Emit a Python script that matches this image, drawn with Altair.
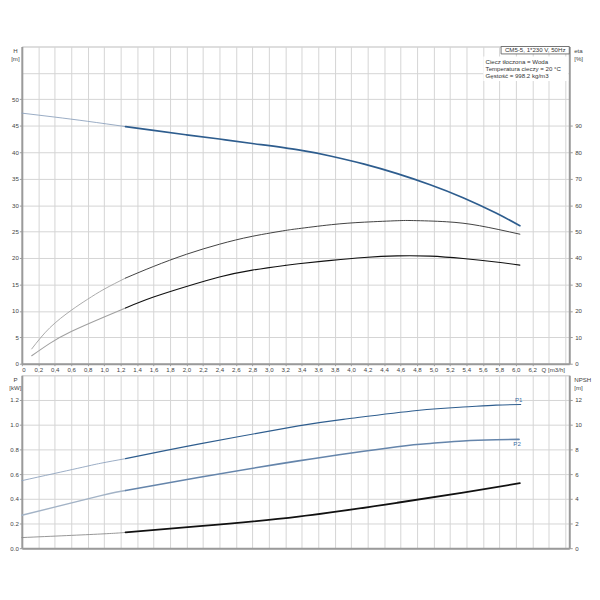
import altair as alt
import pandas as pd

# ---------------- data ----------------
# Head curve H [m] vs flow Q [m3/h]
Q_H = [0.0, 0.4, 0.8, 1.26, 1.6, 2.0, 2.4, 2.8, 3.36, 3.76, 4.16, 4.56, 4.96, 5.36, 5.76, 6.05]
H = [47.4, 46.65, 45.85, 44.85, 44.15, 43.3, 42.5, 41.65, 40.45, 39.25, 37.75, 35.95, 33.85, 31.4, 28.5, 26.1]

# Efficiency curves eta [%]
Q_ETA_A = [0.12, 0.34, 0.6, 0.8, 1.0, 1.26, 1.6, 2.0, 2.4, 2.8, 3.2, 3.36, 3.76, 4.16, 4.56, 4.76, 5.16, 5.56, 6.05]
ETA_A = [5.6, 13.6, 20.2, 24.4, 28.2, 32.4, 36.8, 41.4, 45.2, 48.2, 50.4, 51.1, 52.6, 53.55, 54.1, 54.15, 53.7, 52.2, 49.0]

Q_ETA_B = [0.12, 0.34, 0.6, 1.0, 1.26, 1.6, 2.0, 2.4, 2.8, 3.2, 3.36, 3.76, 4.16, 4.56, 4.96, 5.36, 5.76, 6.05]
ETA_B = [3.0, 7.7, 12.2, 17.7, 21.1, 25.2, 29.2, 32.8, 35.4, 37.2, 37.8, 39.1, 40.2, 40.8, 40.7, 39.8, 38.5, 37.3]

# Power curves P [kW]
Q_P1 = [0.0, 0.68, 0.96, 1.26, 2.16, 3.36, 3.96, 4.8, 5.36, 5.76, 6.06]
P1 = [0.547, 0.647, 0.688, 0.725, 0.845, 0.99, 1.048, 1.115, 1.143, 1.158, 1.163]

Q_P2 = [0.0, 0.96, 1.26, 2.16, 3.36, 4.56, 4.96, 5.36, 5.76, 6.04]
P2 = [0.267, 0.425, 0.467, 0.574, 0.707, 0.822, 0.848, 0.868, 0.878, 0.881]

# NPSH [m]
Q_NPSH = [0.0, 0.96, 1.26, 2.16, 3.36, 4.56, 5.36, 6.05]
NPSH = [0.86, 1.15, 1.28, 1.78, 2.56, 3.68, 4.5, 5.26]

DUTY_START = 1.26  # thin line before, thick line after

CURVE_LABELS = ["P1", "P2"]

TITLE_BOX = "CM5-5, 1*230 V, 50Hz"
INFO_LINES = ["Ciecz tłoczona = Woda", "Temperatura cieczy = 20 °C", "Gęstość = 998.2 kg/m3"]

X_GRID = [round(i * 0.2, 1) for i in range(34)]       # 0 .. 6.6
Q_LABEL_POS = 6.45                                     # where "Q [m3/h]" sits
H_GRID = [i * 5 for i in range(13)]                    # 0 .. 60
ETA_TICKS = [i * 10 for i in range(10)]                # 0 .. 90
P_GRID = [round(i * 0.2, 1) for i in range(8)]         # 0 .. 1.4
NPSH_TICKS = [i * 2 for i in range(7)]                 # 0 .. 12

# ---------------- helpers ----------------
def segments(name, qs, vs):
    rows = []
    for q, v in zip(qs, vs):
        if q <= DUTY_START:
            rows.append({"Q": q, "v": v, "seg": name + "_thin"})
        if q >= DUTY_START:
            rows.append({"Q": q, "v": v, "seg": name + "_thick"})
    return rows

df_h = pd.DataFrame(segments("H", Q_H, H))
df_eta = pd.DataFrame(segments("EA", Q_ETA_A, ETA_A) + segments("EB", Q_ETA_B, ETA_B))
df_p = pd.DataFrame(segments("P1", Q_P1, P1) + segments("P2", Q_P2, P2))
df_n = pd.DataFrame(segments("N", Q_NPSH, NPSH))
df_lab = pd.DataFrame({
    "Q": [Q_P1[-1], Q_P2[-1]],
    "v": [P1[-1], P2[-1]],
    "label": CURVE_LABELS,
})

STYLE = {
    "H_thin": ("#8ea3bd", 0.9), "H_thick": ("#2e5d8e", 1.7),
    "EA_thin": ("#a0a0a0", 0.9), "EA_thick": ("#3a3a3a", 1.1),
    "EB_thin": ("#a0a0a0", 0.9), "EB_thick": ("#111111", 1.9),
    "P1_thin": ("#8ea3bd", 0.9), "P1_thick": ("#2e5d8e", 1.6),
    "P2_thin": ("#a3b3c6", 0.9), "P2_thick": ("#6585ab", 1.1),
    "N_thin": ("#8a8a8a", 0.9), "N_thick": ("#111111", 1.8),
}

def color_enc(keys):
    return alt.Color("seg:N", legend=None,
                     scale=alt.Scale(domain=keys, range=[STYLE[k][0] for k in keys]))

def width_enc(keys):
    return alt.StrokeWidth("seg:N", legend=None,
                           scale=alt.Scale(domain=keys, range=[STYLE[k][1] for k in keys]))

FONT = "Liberation Sans"
FS = 6.2
TXT = "#444444"
AXC = "#9a9a9a"
W = 554
H_TOP = 321
H_BOT = 175
INTERP = "natural"

x_scale = alt.Scale(domain=[0, 6.65], nice=False, zero=False)

x_axis_top = alt.Axis(
    values=X_GRID + [Q_LABEL_POS], title=None, grid=True, labelOverlap=False,
    labelExpr=("datum.value == 0 ? '0' : (datum.value == %s ? 'Q [m3/h]' : "
               "(datum.value > 6.3 ? '' : replace(format(datum.value, '.1f'), '.', ',')))") % Q_LABEL_POS,
    gridOpacity={"condition": {"test": "datum.value == %s" % Q_LABEL_POS, "value": 0}, "value": 1},
    tickOpacity={"condition": {"test": "datum.value > 6.3", "value": 0}, "value": 1},
    tickSize=2, labelPadding=0.5, domainWidth=2, domainColor=AXC, tickColor=AXC,
)
x_axis_bot = alt.Axis(values=X_GRID, title=None, grid=True, labels=False, ticks=False,
                      domainWidth=2, domainColor=AXC)

def left_axis(values, title, maxlab, fmt):
    return alt.Axis(
        values=values, title=title, grid=True, format=fmt,
        labelExpr=f"datum.value > {maxlab} ? '' : datum.label",
        tickOpacity={"condition": {"test": f"datum.value > {maxlab}", "value": 0}, "value": 1},
        tickSize=2.5, labelPadding=1, domainWidth=2, domainColor=AXC, tickColor=AXC,
        titleAngle=0, titleAlign="center", titleBaseline="top", titleX=-7, titleY=1,
        titleFontWeight="normal", titleFontSize=FS, titleColor=TXT, titleFont=FONT,
        titleLineHeight=8,
    )

def right_axis(values, title):
    return alt.Axis(
        values=values, title=title, grid=False, orient="right",
        tickSize=3, labelPadding=2.5, domainWidth=2, domainColor=AXC, tickColor=AXC,
        titleAngle=0, titleAlign="left", titleBaseline="top", titleX=4.5, titleY=1,
        titleFontWeight="normal", titleFontSize=FS, titleColor=TXT, titleFont=FONT,
        titleLineHeight=8,
    )

# ---------------- top panel ----------------
h_keys = ["H_thin", "H_thick"]
h_y = alt.Y("v:Q", scale=alt.Scale(domain=[0, 60], nice=False),
            axis=left_axis(H_GRID, ["H", "[m]"], 50, "d"))
h_lines = alt.Chart(df_h).mark_line(interpolate=INTERP, strokeCap="round").encode(
    x=alt.X("Q:Q", scale=x_scale, axis=x_axis_top),
    y=h_y, color=color_enc(h_keys), strokeWidth=width_enc(h_keys), detail="seg:N",
)

e_keys = ["EA_thin", "EA_thick", "EB_thin", "EB_thick"]
eta_lines = alt.Chart(df_eta).mark_line(interpolate=INTERP, strokeCap="round").encode(
    x=alt.X("Q:Q", scale=x_scale, axis=x_axis_top),
    y=alt.Y("v:Q", scale=alt.Scale(domain=[0, 120], nice=False),
            axis=right_axis(ETA_TICKS, ["eta", "[%]"])),
    color=color_enc(e_keys), strokeWidth=width_enc(e_keys), detail="seg:N",
)

ann_src = pd.DataFrame({"k": [0]})
info_bg = alt.Chart(ann_src).mark_rect(fill="white").encode(
    x=alt.value(467), x2=alt.value(553), y=alt.value(10), y2=alt.value(35))
box = alt.Chart(ann_src).mark_rect(fill="white", stroke="#555555", strokeWidth=0.8).encode(
    x=alt.value(485), x2=alt.value(554), y=alt.value(0), y2=alt.value(7.5))
box_text = alt.Chart(ann_src).mark_text(font=FONT, fontSize=FS, color="#333333",
                                        align="center", baseline="middle").encode(
    x=alt.value(519.5), y=alt.value(4), text=alt.value(TITLE_BOX))
info_text = alt.Chart(ann_src).mark_text(font=FONT, fontSize=FS, color="#333333",
                                         align="left", baseline="top", lineHeight=7.2).encode(
    x=alt.value(469.3), y=alt.value(12.4), text=alt.value(INFO_LINES))

top = alt.layer(
    h_lines, eta_lines, info_bg, box, box_text, info_text
).resolve_scale(y="independent", color="independent", strokeWidth="independent"
).properties(width=W, height=H_TOP)

# ---------------- bottom panel ----------------
p_keys = ["P1_thin", "P1_thick", "P2_thin", "P2_thick"]
p_y = alt.Y("v:Q", scale=alt.Scale(domain=[0, 1.4], nice=False),
            axis=left_axis(P_GRID, ["P", "[kW]"], 1.25, ".1f"))
p_x = alt.X("Q:Q", scale=x_scale, axis=x_axis_bot)
p_lines = alt.Chart(df_p).mark_line(interpolate=INTERP, strokeCap="round").encode(
    x=p_x, y=p_y, color=color_enc(p_keys), strokeWidth=width_enc(p_keys), detail="seg:N",
)
p1_lab = alt.Chart(df_lab).transform_filter("datum.label == 'P1'").mark_text(
    font=FONT, fontSize=FS, color="#3a6ea5", align="center", baseline="middle", dy=-5, dx=-2
).encode(x=p_x, y=p_y, text="label:N")
p2_lab = alt.Chart(df_lab).transform_filter("datum.label == 'P2'").mark_text(
    font=FONT, fontSize=FS, color="#3a6ea5", align="center", baseline="middle", dy=5, dx=-2
).encode(x=p_x, y=p_y, text="label:N")

n_keys = ["N_thin", "N_thick"]
n_lines = alt.Chart(df_n).mark_line(interpolate=INTERP, strokeCap="round").encode(
    x=p_x,
    y=alt.Y("v:Q", scale=alt.Scale(domain=[0, 14], nice=False),
            axis=right_axis(NPSH_TICKS, ["NPSH", "[m]"])),
    color=color_enc(n_keys), strokeWidth=width_enc(n_keys), detail="seg:N",
)

bottom = alt.layer(
    alt.layer(p_lines, p1_lab, p2_lab), n_lines
).resolve_scale(y="independent", color="independent", strokeWidth="independent"
).properties(width=W, height=H_BOT)

chart = alt.vconcat(top, bottom, spacing=11.7, bounds="flush").properties(
    padding={"left": 0, "top": 34.7, "right": 0, "bottom": 0}
).configure_view(
    stroke="#cfcfcf", strokeWidth=1
).configure_axis(
    labelFont=FONT, labelFontSize=FS, labelColor=TXT, gridColor="#d4d4d4", gridWidth=1,
).configure_text(font=FONT)

chart.save("out.html", embed_options={"renderer": "svg", "actions": False})
